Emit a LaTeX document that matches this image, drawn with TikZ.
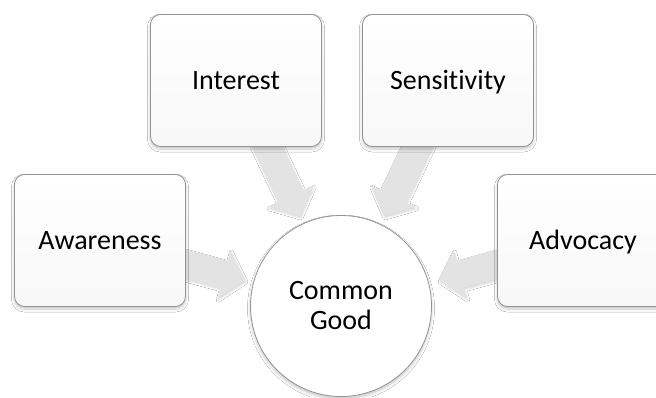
\documentclass[tikz,border=0pt]{standalone}
\usepackage{fontspec}
\setmainfont{Carlito}[Ligatures=NoCommon]
\usetikzlibrary{calc,shadows.blur}
\newcommand\blockarrow[2]{%
  \coordinate (ba-b) at ($(#2)!22pt!(#1)$);
  \fill[arrowfill] ($(#1)!14pt!90:(#2)$) -- ($(ba-b)!14pt!90:(#2)$) -- ($(ba-b)!25pt!90:(#2)$) -- (#2)
    -- ($(ba-b)!25pt!-90:(#2)$) -- ($(ba-b)!14pt!-90:(#2)$) -- ($(#1)!14pt!-90:(#2)$) -- cycle;}
\begin{document}
\begin{tikzpicture}[x=1pt,y=-1pt,
  txt/.style={font=\fontsize{28}{30}\selectfont, align=center, text=black},
  box/.style={txt, draw=gray!85, line width=0.8pt, rounded corners=10pt,
    top color=white, bottom color=gray!6,
    blur shadow={shadow xshift=0pt, shadow yshift=-2.5pt, shadow blur radius=3pt, shadow opacity=22},
    minimum width=171pt, minimum height=132pt, inner sep=0pt, text height=22pt, text depth=4pt},
  hub/.style={txt, circle, draw=gray!85, line width=0.8pt, fill=white,
    blur shadow={shadow xshift=0pt, shadow yshift=-2.5pt, shadow blur radius=3pt, shadow opacity=22},
    minimum size=181pt, inner sep=0pt},
  arrowfill/.style={fill=gray!22,
    blur shadow={shadow xshift=1pt, shadow yshift=-2pt, shadow blur radius=2pt, shadow opacity=15}}]
\clip (0,0) rectangle (656,397);
\fill[white] (0,0) rectangle (656,397);
% anchor coordinates
\coordinate (aw-c) at (100,240.5);
\coordinate (in-c) at (236,80.5);
\coordinate (se-c) at (448,80.5);
\coordinate (ad-c) at (583,240.5);
\coordinate (aw-t) at (245,280);
\coordinate (in-t) at (300,216);
\coordinate (se-t) at (384,216);
\coordinate (ad-t) at (439,280);
% arrows
\blockarrow{aw-c}{aw-t}
\blockarrow{in-c}{in-t}
\blockarrow{se-c}{se-t}
\blockarrow{ad-c}{ad-t}
% nodes
\node[box] (aw) at (aw-c) {Awareness};
\node[box] (in) at (in-c) {Interest};
\node[box] (se) at (se-c) {Sensitivity};
\node[box] (ad) at (ad-c) {Advocacy};
\node[hub] (cg) at (341,306) {Common\\Good};
\end{tikzpicture}
\end{document}
